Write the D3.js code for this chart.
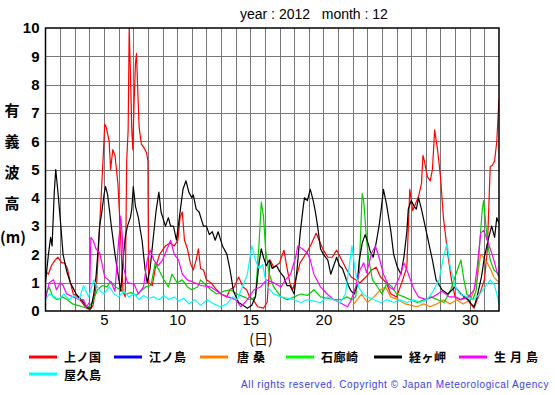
<!DOCTYPE html>
<html>
<head>
<meta charset="utf-8">
<script src="https://cdn.jsdelivr.net/npm/d3@7"></script>
<style>
body { margin: 0; background: #fff; }
svg { display: block; }
</style>
</head>
<body>
<div id="chart"></div>
<script>
var width = 555, height = 395;
var plot = {left: 45.5, right: 499, top: 28, bottom: 311};

var stations = ["上ノ国", "江ノ島", "唐桑", "石廊崎", "経ヶ岬", "生月島", "屋久島"];
var colors = ["#ff0000", "#0000ff", "#ff8000", "#00cc00", "#000000", "#ff00ff", "#00ffff"];
var legendColors = ["#ff0000", "#0000ff", "#ff8000", "#00ff00", "#000000", "#ff00ff", "#00ffff"];
var xTicks = [5, 10, 15, 20, 25, 30];
var yTicks = [0, 1, 2, 3, 4, 5, 6, 7, 8, 9, 10];

// [day, wave height (m)]
var kaminokuni = [[1.0,1.4],[1.2,1.3],[1.4,1.6],[1.65,1.8],[1.85,1.9],[2.1,1.7],[2.3,1.7],[2.5,1.5],[2.7,1.0],[2.9,0.6],[3.2,0.5],[3.5,0.3],[3.8,0.1],[4.05,0.05],[4.25,0.2],[4.5,1.0],[4.7,3.0],[4.95,5.5],[5.05,6.6],[5.15,6.5],[5.35,6.0],[5.45,5.0],[5.6,5.7],[5.75,5.5],[5.85,5.0],[5.95,4.5],[6.1,3.0],[6.3,0.7],[6.45,0.5],[6.55,5.3],[6.65,6.4],[6.72,10.0],[6.8,8.5],[6.9,6.4],[6.97,5.7],[7.05,7.3],[7.15,8.75],[7.22,9.1],[7.3,7.9],[7.4,6.5],[7.55,5.9],[7.7,5.8],[7.8,5.7],[7.9,5.6],[8.0,5.3],[8.05,1.0],[8.3,0.9],[8.5,1.5],[8.8,2.0],[9.2,2.3],[9.5,2.4],[9.8,2.3],[10.05,2.5],[10.2,3.3],[10.35,3.5],[10.5,2.5],[10.7,2.2],[10.9,1.7],[11.1,1.45],[11.3,1.8],[11.45,2.2],[11.6,1.5],[11.8,1.45],[12.0,1.1],[12.3,1.0],[12.7,0.75],[13.0,0.6],[13.4,0.5],[13.6,0.75],[13.9,0.85],[14.2,1.2],[14.5,0.85],[14.75,0.75],[14.95,0.5],[15.2,0.4],[15.5,0.15],[15.9,0.1],[16.15,0.3],[16.35,1.8],[16.6,1.55],[17.0,1.7],[17.3,2.15],[17.5,1.55],[17.7,1.0],[17.9,0.75],[18.15,1.2],[18.4,1.7],[18.65,1.9],[18.95,2.15],[19.2,2.4],[19.5,2.75],[19.7,2.5],[20.0,2.15],[20.3,1.9],[20.6,1.9],[20.9,2.15],[21.15,1.9],[21.6,1.45],[21.9,1.2],[22.2,1.1],[22.5,1.0],[22.9,1.2],[23.3,1.45],[23.6,1.55],[23.9,1.2],[24.3,1.0],[24.6,0.6],[25.0,0.5],[25.35,1.0],[25.7,1.55],[25.9,4.3],[26.1,3.55],[26.3,3.8],[26.5,4.05],[26.7,4.5],[26.8,5.5],[26.9,5.3],[27.1,4.75],[27.3,4.6],[27.45,5.0],[27.6,6.4],[27.8,5.7],[28.0,4.75],[28.2,3.3],[28.5,2.0],[28.75,1.1],[29.0,0.5],[29.35,0.4],[29.7,0.5],[30.05,0.25],[30.3,0.1],[30.5,0.4],[30.75,0.7],[31.0,1.1],[31.2,2.15],[31.4,5.1],[31.55,5.15],[31.7,5.3],[31.85,6.0],[32.0,7.5]];
var enoshima = [];
var karakuwa = [[22.0,0.2],[22.3,0.4],[22.6,0.6],[23.0,0.3],[23.45,0.5],[23.9,0.75],[24.25,0.85],[24.6,0.5],[25.1,0.4],[25.6,0.25],[26.0,0.2],[26.4,0.15],[26.85,0.25],[27.3,0.15],[27.75,0.25],[28.2,0.4],[28.65,0.25],[29.1,0.4],[29.55,0.25],[30.05,0.4],[30.3,0.75],[30.5,1.1],[30.75,2.0],[30.95,1.9],[31.2,1.7],[31.45,1.45],[31.65,1.2],[32.0,1.0]];
var irozaki = [[1.0,0.6],[1.25,0.85],[1.5,0.5],[1.8,0.4],[2.15,0.5],[2.5,0.4],[2.85,0.25],[3.2,0.2],[3.5,0.15],[3.85,0.1],[4.2,0.3],[4.55,0.75],[4.9,0.9],[5.2,0.85],[5.45,1.05],[5.8,0.85],[6.1,0.75],[6.5,0.6],[6.85,0.65],[7.2,0.55],[7.5,0.7],[7.85,0.85],[8.2,0.9],[8.5,1.7],[8.75,1.45],[9.1,1.1],[9.4,0.85],[9.65,1.3],[10.0,1.0],[10.35,1.1],[10.7,0.85],[11.0,0.75],[11.4,0.85],[11.6,1.1],[11.8,1.0],[12.3,0.75],[12.7,0.6],[13.2,0.7],[13.65,0.75],[14.1,0.6],[14.55,0.5],[15.0,0.4],[15.35,0.5],[15.6,2.4],[15.75,3.85],[15.9,3.35],[16.05,2.15],[16.3,1.3],[16.6,0.85],[17.1,0.5],[17.55,0.4],[18.0,0.5],[18.45,0.6],[18.9,0.55],[19.35,0.75],[19.8,0.5],[20.3,0.45],[20.75,0.4],[21.2,0.4],[21.6,0.5],[21.95,0.4],[22.2,0.5],[22.45,1.55],[22.65,4.15],[22.75,3.9],[22.95,2.5],[23.1,1.8],[23.35,1.1],[23.7,0.85],[24.0,0.6],[24.35,1.0],[24.7,0.85],[25.0,0.6],[25.5,0.5],[25.95,0.4],[26.4,0.3],[26.9,0.4],[27.35,0.5],[27.8,0.4],[28.25,0.3],[28.7,0.75],[29.05,1.3],[29.4,1.8],[29.6,1.1],[29.8,0.6],[30.2,0.4],[30.45,0.75],[30.65,2.15],[30.85,3.55],[30.95,3.9],[31.2,2.5],[31.4,1.8],[31.65,1.45],[32.0,1.3]];
var kyogamisaki = [[1.0,1.0],[1.2,2.0],[1.35,2.6],[1.45,2.3],[1.6,4.2],[1.7,5.0],[1.85,4.2],[2.05,3.0],[2.2,2.0],[2.45,1.4],[2.7,1.0],[2.9,0.8],[3.1,0.6],[3.35,0.45],[3.6,0.3],[3.9,0.1],[4.1,0.1],[4.3,0.6],[4.45,1.2],[4.6,2.2],[4.7,3.0],[4.85,3.5],[5.0,4.1],[5.1,4.4],[5.25,4.1],[5.5,3.0],[5.75,2.0],[5.9,1.5],[6.05,1.0],[6.15,0.7],[6.3,1.8],[6.45,2.6],[6.6,3.0],[6.8,3.3],[6.9,3.6],[7.0,4.4],[7.15,3.7],[7.35,3.3],[7.5,2.8],[7.6,2.5],[7.8,1.5],[7.95,1.0],[8.15,1.5],[8.35,2.5],[8.55,3.5],[8.75,4.2],[8.9,3.5],[9.2,3.0],[9.4,3.3],[9.55,3.0],[9.75,3.0],[9.95,2.5],[10.2,3.5],[10.4,4.3],[10.6,4.6],[10.8,4.2],[11.0,4.0],[11.1,4.1],[11.3,3.6],[11.5,3.5],[11.8,3.0],[12.0,3.0],[12.2,2.7],[12.4,2.8],[12.6,2.5],[12.8,2.8],[13.1,2.3],[13.4,2.0],[13.6,1.5],[13.85,0.7],[14.2,0.3],[14.5,0.2],[14.8,0.1],[15.1,0.2],[15.35,0.5],[15.6,1.7],[15.75,2.2],[15.9,1.9],[16.1,1.6],[16.3,1.8],[16.5,1.5],[16.8,1.6],[17.0,1.4],[17.3,1.2],[17.5,0.9],[17.7,0.9],[18.0,0.6],[18.2,1.5],[18.4,2.7],[18.6,3.6],[18.7,4.0],[18.9,3.9],[19.1,4.3],[19.3,3.9],[19.45,3.5],[19.6,3.0],[19.8,2.2],[20.0,2.0],[20.3,1.8],[20.5,1.3],[20.7,1.6],[20.9,1.9],[21.1,1.6],[21.3,1.5],[21.5,1.2],[21.7,0.9],[21.9,0.7],[22.1,0.6],[22.3,0.9],[22.45,1.8],[22.65,2.4],[22.85,2.7],[23.05,2.4],[23.2,2.1],[23.4,1.9],[23.6,2.4],[23.8,3.0],[23.95,3.6],[24.1,4.3],[24.3,3.8],[24.6,2.85],[24.8,2.0],[25.05,1.55],[25.3,1.3],[25.5,1.9],[25.7,2.8],[25.8,3.6],[26.0,3.9],[26.2,3.7],[26.35,3.6],[26.5,4.0],[26.7,3.6],[26.95,3.0],[27.2,2.4],[27.45,1.8],[27.7,1.1],[28.1,0.75],[28.5,0.6],[29.0,0.85],[29.4,0.6],[29.9,0.4],[30.1,0.25],[30.3,0.15],[30.5,0.5],[30.8,1.2],[31.0,1.9],[31.3,2.6],[31.5,3.0],[31.7,2.6],[31.85,3.3],[32.0,3.1]];
var ikitsukishima = [[1.0,0.4],[1.25,1.0],[1.55,1.1],[1.75,0.75],[2.0,1.0],[2.2,0.9],[2.45,0.6],[2.9,0.5],[3.3,0.4],[3.6,0.4],[3.8,0.15],[4.0,0.3],[4.1,2.6],[4.25,2.5],[4.45,2.2],[4.7,2.05],[4.85,1.7],[5.05,1.2],[5.3,1.1],[5.5,1.0],[5.75,0.7],[5.95,2.15],[6.15,3.35],[6.25,2.6],[6.35,1.5],[6.6,1.0],[7.05,0.95],[7.35,0.6],[7.7,0.85],[7.95,1.8],[8.15,2.15],[8.4,1.8],[8.7,1.6],[9.0,1.8],[9.4,2.3],[9.55,2.5],[9.8,2.0],[10.1,1.8],[10.35,1.3],[10.7,1.1],[11.2,1.0],[11.6,0.9],[12.3,0.85],[13.0,0.6],[13.45,0.5],[14.0,0.4],[14.35,0.15],[14.8,0.4],[15.25,0.75],[15.7,0.85],[16.1,1.1],[16.6,1.0],[17.1,0.85],[17.4,1.1],[17.75,1.3],[18.1,1.9],[18.25,2.3],[18.55,2.2],[18.9,2.05],[19.1,1.8],[19.35,1.3],[19.8,0.85],[20.25,0.6],[20.7,0.4],[21.3,0.25],[21.65,0.15],[21.9,0.4],[22.2,0.85],[22.5,1.45],[22.75,1.7],[22.95,1.35],[23.3,2.05],[23.55,2.3],[23.8,1.9],[24.1,1.3],[24.5,0.85],[24.8,0.75],[25.2,1.2],[25.5,1.7],[25.7,1.45],[25.95,1.1],[26.2,0.75],[26.5,0.5],[27.0,0.4],[27.5,0.5],[27.8,0.6],[28.1,0.7],[28.6,0.5],[29.0,0.5],[29.4,0.4],[29.9,0.5],[30.3,0.75],[30.5,1.5],[30.75,2.75],[30.95,2.85],[31.2,2.5],[31.4,2.2],[31.65,1.8],[31.9,1.3],[32.0,1.2]];
var yakushima = [[1.0,0.4],[1.25,0.6],[1.6,0.5],[1.9,0.4],[2.25,0.6],[2.6,0.4],[2.95,0.55],[3.3,0.4],[3.6,0.9],[3.95,0.5],[4.3,1.1],[4.65,0.75],[5.0,0.6],[5.35,0.85],[5.7,0.6],[6.0,0.5],[6.35,0.7],[6.7,0.5],[7.05,0.6],[7.4,0.4],[7.7,0.55],[8.05,0.45],[8.4,0.5],[8.75,0.4],[9.1,0.55],[9.45,0.4],[9.8,0.5],[10.1,0.35],[10.45,0.45],[10.8,0.25],[11.2,0.4],[11.6,0.2],[12.05,0.4],[12.5,0.25],[12.95,0.15],[13.4,0.25],[13.8,0.5],[14.1,0.4],[14.45,0.85],[14.8,1.3],[15.1,2.3],[15.35,1.8],[15.6,1.5],[15.85,1.65],[16.0,1.2],[16.2,0.85],[16.6,0.6],[17.1,0.5],[17.55,0.45],[18.0,0.4],[18.45,0.3],[18.9,0.4],[19.35,0.35],[19.8,0.3],[20.25,0.5],[20.7,0.4],[21.15,0.3],[21.5,0.6],[21.75,1.55],[21.95,2.3],[22.15,1.5],[22.4,0.85],[22.7,0.6],[23.0,0.5],[23.45,0.4],[23.9,0.3],[24.35,0.4],[24.8,0.3],[25.25,0.4],[25.7,0.3],[26.15,0.4],[26.6,0.3],[27.1,0.4],[27.55,0.75],[27.9,1.1],[28.2,1.9],[28.45,2.4],[28.65,1.6],[29.0,0.85],[29.35,0.6],[29.8,0.5],[30.25,0.4],[30.7,0.6],[31.05,0.85],[31.4,1.1],[31.7,0.9],[31.9,0.5],[32.0,0.25]];

var series = [kaminokuni, enoshima, karakuwa, irozaki, kyogamisaki, ikitsukishima, yakushima];

var svg = d3.select("#chart").append("svg")
  .attr("width", width)
  .attr("height", height)
  .style("font-family", "'Liberation Sans', Arial, sans-serif");

var x = d3.scaleLinear().domain([1, 32]).range([plot.left, plot.right]);
var y = d3.scaleLinear().domain([0, 10]).range([plot.bottom, plot.top]);

// title
svg.append("text")
  .attr("x", 240)
  .attr("y", 19)
  .attr("font-size", 14)
  .attr("xml:space", "preserve")
  .style("white-space", "pre")
  .text("year : 2012   month : 12");

// grid
var grid = svg.append("g").attr("stroke", "#777").attr("stroke-width", 1);
grid.selectAll("line.v")
  .data(d3.range(2, 32))
  .enter().append("line")
  .attr("class", "v")
  .attr("x1", function(d) { return Math.round(x(d)) + 0.5; })
  .attr("x2", function(d) { return Math.round(x(d)) + 0.5; })
  .attr("y1", plot.top)
  .attr("y2", plot.bottom);
grid.selectAll("line.h")
  .data(d3.range(1, 10))
  .enter().append("line")
  .attr("class", "h")
  .attr("x1", plot.left)
  .attr("x2", plot.right)
  .attr("y1", function(d) { return Math.round(y(d)) + 0.5; })
  .attr("y2", function(d) { return Math.round(y(d)) + 0.5; });

svg.append("clipPath").attr("id", "clip")
  .append("rect")
  .attr("x", plot.left)
  .attr("y", plot.top)
  .attr("width", plot.right - plot.left)
  .attr("height", plot.bottom - plot.top);

var line = d3.line()
  .x(function(d) { return x(d[0]); })
  .y(function(d) { return y(d[1]); });

svg.append("g")
  .attr("clip-path", "url(#clip)")
  .selectAll("path")
  .data(series)
  .enter().append("path")
  .attr("fill", "none")
  .attr("stroke", function(d, i) { return colors[i]; })
  .attr("stroke-width", 1.2)
  .attr("stroke-linejoin", "round")
  .attr("d", function(d) { return d.length ? line(d) : null; });

// frame
svg.append("rect")
  .attr("x", plot.left)
  .attr("y", plot.top)
  .attr("width", plot.right - plot.left)
  .attr("height", plot.bottom - plot.top)
  .attr("fill", "none")
  .attr("stroke", "#000")
  .attr("stroke-width", 1.5);

// axes
var xAxis = d3.axisBottom(x).tickValues(xTicks).tickSize(0).tickPadding(3);
var gx = svg.append("g")
  .attr("transform", "translate(0," + plot.bottom + ")")
  .call(xAxis);
gx.select(".domain").remove();
gx.selectAll("text").attr("font-size", 15).attr("fill", "#000");

var yAxis = d3.axisLeft(y).tickValues(yTicks).tickSize(0).tickPadding(6);
var gy = svg.append("g")
  .attr("transform", "translate(" + plot.left + ",0)")
  .call(yAxis);
gy.select(".domain").remove();
gy.selectAll("text").attr("font-size", 15).attr("font-weight", "bold").attr("fill", "#000");

// axis titles
var cjk = "'Noto Sans CJK JP', sans-serif";
var yTitle = ["有", "義", "波", "高"];
svg.append("g").selectAll("text")
  .data(yTitle)
  .enter().append("text")
  .attr("x", 12)
  .attr("y", function(d, i) { return 116 + i * 31; })
  .attr("text-anchor", "middle")
  .attr("font-size", 15)
  .attr("font-weight", "bold")
  .style("font-family", cjk)
  .text(function(d) { return d; });
svg.append("text")
  .attr("x", 13)
  .attr("y", 243)
  .attr("text-anchor", "middle")
  .attr("font-size", 15)
  .attr("font-weight", "bold")
  .style("font-family", cjk)
  .text("(m)");

svg.append("text")
  .attr("x", 261)
  .attr("y", 344)
  .attr("text-anchor", "middle")
  .attr("font-size", 14)
  .style("font-family", cjk)
  .text("(日)");

// legend
var legendPos = [[29, 357], [114, 357], [200, 357], [286, 357], [374, 357], [459, 357], [29, 374]];
var legend = svg.append("g")
  .selectAll("g")
  .data(stations)
  .enter().append("g")
  .attr("transform", function(d, i) { return "translate(" + legendPos[i][0] + "," + legendPos[i][1] + ")"; });

legend.append("line")
  .attr("x1", 0)
  .attr("x2", 28)
  .attr("stroke", function(d, i) { return legendColors[i]; })
  .attr("stroke-width", 3);

legend.append("text")
  .attr("x", function(d, i) { return i == 2 ? 37 : 35; })
  .attr("y", function(d, i) { return i == 6 ? 5.5 : 5; })
  .attr("font-size", 12)
  .attr("font-weight", "bold")
  .style("font-family", cjk)
  .attr("letter-spacing", function(d, i) { return i == 2 || i == 5 ? 4 : 0.5; })
  .text(function(d) { return d; });

svg.append("text")
  .attr("x", 549)
  .attr("y", 388)
  .attr("text-anchor", "end")
  .attr("font-size", 10)
  .attr("letter-spacing", 0.6)
  .attr("fill", "#3c3cf0")
  .text("All rights reserved. Copyright © Japan Meteorological Agency");
</script>
</body>
</html>
